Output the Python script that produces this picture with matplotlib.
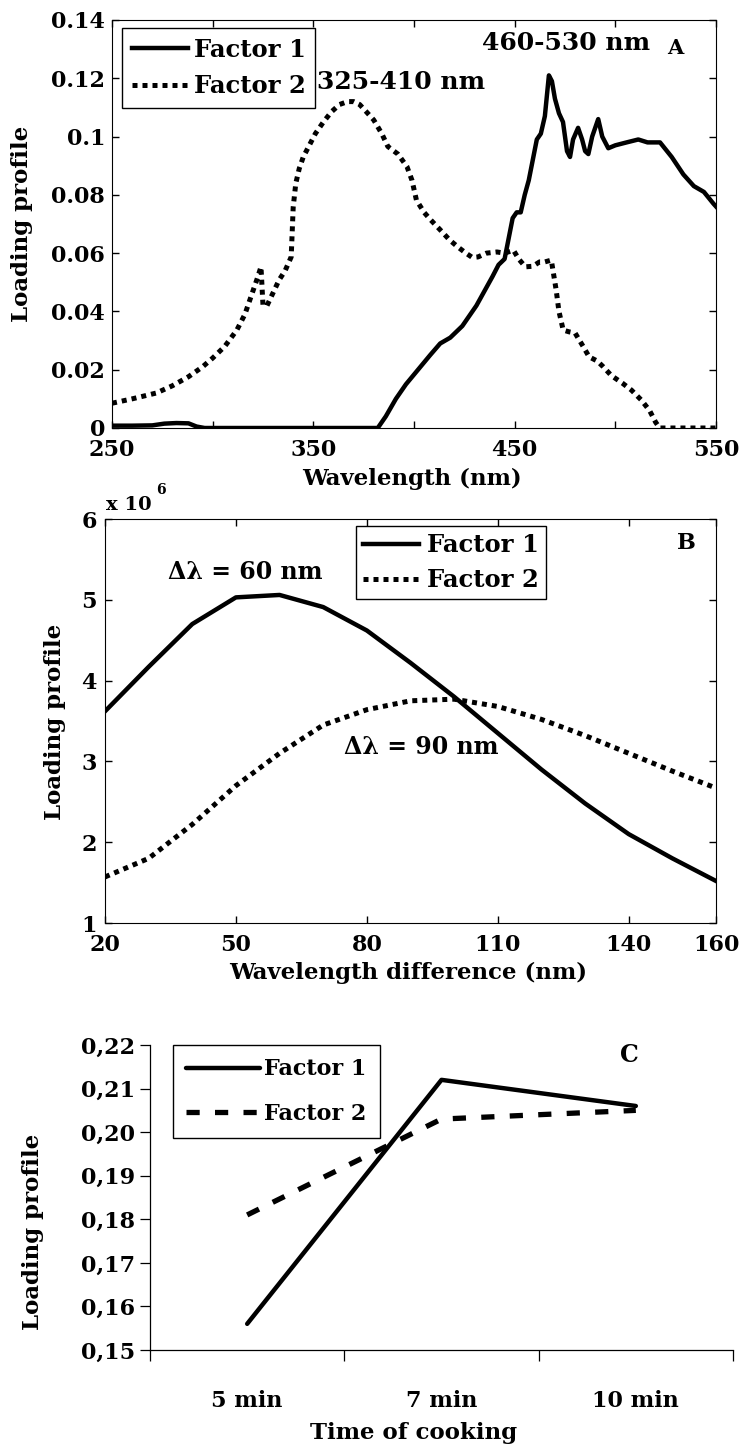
import matplotlib
matplotlib.use("Agg")
import matplotlib.pyplot as plt
from matplotlib.ticker import FixedLocator, FixedFormatter

plt.rcParams['font.family'] = ['DejaVu Serif']
plt.rcParams['font.weight'] = 'bold'
plt.rcParams['axes.labelweight'] = 'bold'

# ---------------- Panel A data ----------------
wlA1 = [250, 260, 270, 276, 282, 288, 292, 296, 340, 382, 386, 391, 396, 402, 408, 413,
        418, 424, 428, 431, 435, 439, 442, 445, 447, 449, 451, 453, 455, 457, 459, 461,
        463, 465, 467, 468.5, 470, 472, 474, 476, 477.5, 479, 481.5, 483.5, 485, 486.6,
        488.5, 491.5, 493.5, 496.5, 500, 505.6, 511.4, 516, 522.2, 528, 533.8, 539, 544,
        548.7, 550]
loadA1 = [0.0008, 0.0008, 0.0009, 0.0015, 0.0017, 0.0016, 0.0005, 0.0, 0.0, 0.0, 0.004,
          0.010, 0.015, 0.020, 0.025, 0.029, 0.031, 0.035, 0.039, 0.042, 0.047, 0.052,
          0.056, 0.058, 0.065, 0.072, 0.074, 0.074, 0.080, 0.085, 0.092, 0.099, 0.101,
          0.107, 0.121, 0.119, 0.113, 0.108, 0.105, 0.095, 0.093, 0.099, 0.103, 0.099,
          0.095, 0.094, 0.100, 0.106, 0.100, 0.096, 0.097, 0.098, 0.099, 0.098, 0.098,
          0.093, 0.087, 0.083, 0.081, 0.077, 0.076]

wlA2 = [250, 260, 272, 280, 288, 295, 300, 306, 312, 316, 319, 322, 324, 325, 327, 333,
        336, 339, 340, 341.3, 343, 345, 348, 351, 355, 359, 363, 367, 370, 373, 377, 380,
        384, 387, 392, 396.5, 399, 401.2, 405, 408.3, 413, 417.7, 422, 425.8, 429, 431.8,
        436, 441.2, 445, 449.4, 452, 455.3, 459, 462.4, 465, 468.2, 470.6, 472, 474.1,
        477, 480, 484, 487, 491, 494, 498, 503.5, 508, 512.9, 517, 520, 522, 530, 540, 550]
loadA2 = [0.0085, 0.010, 0.012, 0.0145, 0.0176, 0.021, 0.024, 0.028, 0.0336, 0.039, 0.045,
          0.051, 0.0553, 0.042, 0.042, 0.0508, 0.054, 0.0587, 0.0758, 0.084, 0.089, 0.093,
          0.097, 0.101, 0.105, 0.1085, 0.111, 0.112, 0.112, 0.111, 0.108, 0.1057, 0.101,
          0.0966, 0.094, 0.0897, 0.085, 0.0782, 0.074, 0.0714, 0.068, 0.0645, 0.062, 0.060,
          0.0585, 0.0587, 0.060, 0.0604, 0.060, 0.061, 0.058, 0.0553, 0.0555, 0.057, 0.057,
          0.0576, 0.0474, 0.040, 0.0336, 0.033, 0.0326, 0.028, 0.0244, 0.023, 0.021, 0.018,
          0.0154, 0.013, 0.0096, 0.006, 0.002, 0.0, 0.0, 0.0, 0.0]

xticksA = [250, 300, 350, 400, 450, 500, 550]
xticklabelsA = ['250', '', '350', '', '450', '', '550']
yticksA = [0, 0.02, 0.04, 0.06, 0.08, 0.1, 0.12, 0.14]
yticklabelsA = ['0', '0.02', '0.04', '0.06', '0.08', '0.1', '0.12', '0.14']

# ---------------- Panel B data ----------------
dlB = [20, 30, 40, 50, 60, 70, 80, 90, 100, 110, 120, 130, 140, 150, 160]
loadB1 = [3.62, 4.17, 4.70, 5.03, 5.06, 4.91, 4.62, 4.22, 3.80, 3.35, 2.90, 2.48, 2.10, 1.80, 1.52]
loadB2 = [1.57, 1.80, 2.22, 2.70, 3.10, 3.45, 3.64, 3.75, 3.77, 3.68, 3.52, 3.32, 3.10, 2.88, 2.67]
xticksB = [20, 50, 80, 110, 140, 160]
yticksB = [1, 2, 3, 4, 5, 6]

# ---------------- Panel C data ----------------
timesC = ['5 min', '7 min', '10 min']
loadC1 = [0.156, 0.212, 0.206]
loadC2 = [0.181, 0.203, 0.205]
yticksC = [0.15, 0.16, 0.17, 0.18, 0.19, 0.20, 0.21, 0.22]
yticklabelsC = ['0,15', '0,16', '0,17', '0,18', '0,19', '0,20', '0,21', '0,22']

W, H = 740, 1452
fig = plt.figure(figsize=(W / 100, H / 100), dpi=100)


def axes_px(left, top, right, bottom):
    return fig.add_axes([left / W, 1 - bottom / H, (right - left) / W, (bottom - top) / H])


FS_TICK = 16
FS_LAB = 16.5

# ================= Panel A =================
axA = axes_px(112, 20, 716, 428)
axA.plot(wlA1, loadA1, color='black', lw=3.2, solid_joinstyle='round', label='Factor 1')
axA.plot(wlA2, loadA2, color='black', lw=3.6, linestyle=(0, (1.0, 1.0)), label='Factor 2')
axA.set_xlim(250, 550)
axA.set_ylim(0, 0.14)
axA.xaxis.set_major_locator(FixedLocator(xticksA))
axA.xaxis.set_major_formatter(FixedFormatter(xticklabelsA))
axA.yaxis.set_major_locator(FixedLocator(yticksA))
axA.yaxis.set_major_formatter(FixedFormatter(yticklabelsA))
axA.tick_params(direction='in', length=5, width=1, top=True, right=True,
                labelsize=FS_TICK, pad=5)
axA.tick_params(axis='x', pad=8)
axA.set_xlabel('Wavelength (nm)', fontsize=FS_LAB, va='center')
axA.xaxis.set_label_coords(0.497, (428 - 479) / 408)
axA.set_ylabel('Loading profile', fontsize=FS_LAB, va='center')
axA.yaxis.set_label_coords((22 - 112) / 604, 0.5)
legA = axA.legend(loc='upper left', bbox_to_anchor=(0.0166, 0.980), borderaxespad=0,
                  fancybox=False, edgecolor='black', framealpha=1, fontsize=17.5,
                  handlelength=2.3, handletextpad=0.25, borderpad=0.4, labelspacing=0.5)
legA.get_frame().set_linewidth(1.0)
axA.text(0.7517, 0.9436, '460-530 nm', transform=axA.transAxes, ha='center', va='center', fontsize=18)
axA.text(0.932, 0.931, 'A', transform=axA.transAxes, ha='center', va='center', fontsize=15)
axA.text(0.4785, 0.848, '325-410 nm', transform=axA.transAxes, ha='center', va='center', fontsize=18)

# ================= Panel B =================
axB = axes_px(105, 519, 716, 923)
axB.plot(dlB, loadB1, color='black', lw=3.2, label='Factor 1')
axB.plot(dlB, loadB2, color='black', lw=3.6, linestyle=(0, (1.0, 1.0)), label='Factor 2')
axB.set_xlim(20, 160)
axB.set_ylim(1, 6)
axB.set_xticks(xticksB)
axB.set_yticks(yticksB)
axB.tick_params(direction='in', length=5, width=1, top=True, right=True,
                labelsize=FS_TICK, pad=6)
axB.tick_params(axis='x', pad=8)
axB.set_xlabel('Wavelength difference (nm)', fontsize=FS_LAB, va='center')
axB.xaxis.set_label_coords(0.496, (923 - 973) / 404)
axB.set_ylabel('Loading profile', fontsize=FS_LAB, va='center')
axB.yaxis.set_label_coords((55 - 105) / 611, (923 - 722) / 404)
legB = axB.legend(loc='upper left', bbox_to_anchor=(0.411, 0.983), borderaxespad=0,
                  fancybox=False, edgecolor='black', framealpha=1, fontsize=17.5,
                  handlelength=2.3, handletextpad=0.3, borderpad=0.3, labelspacing=0.45)
legB.get_frame().set_linewidth(1.0)
axB.text(0.229, 0.869, 'Δλ = 60 nm', transform=axB.transAxes, ha='center', va='center', fontsize=17)
axB.text(0.517, 0.4356, 'Δλ = 90 nm', transform=axB.transAxes, ha='center', va='center', fontsize=17)
axB.text(0.951, 0.9406, 'B', transform=axB.transAxes, ha='center', va='center', fontsize=16)
fig.text(106 / W, 1 - 505 / H, 'x 10', ha='left', va='center', fontsize=14)
fig.text(156 / W, 1 - 490 / H, '6', ha='left', va='center', fontsize=10)

# ================= Panel C =================
axC = axes_px(150, 1045, 733, 1350)
posC = [0.5, 1.5, 2.5]
axC.plot(posC, loadC1, color='black', lw=3.2, solid_capstyle='round', label='Factor 1')
axC.plot(posC, loadC2, color='black', lw=3.8, linestyle=(0, (2.5, 2.9)), label='Factor 2')
axC.set_xlim(0, 3)
axC.set_ylim(0.15, 0.22)
for s in ['top', 'right']:
    axC.spines[s].set_visible(False)
axC.spines['left'].set_linewidth(0.9)
axC.spines['bottom'].set_linewidth(0.9)
axC.xaxis.set_major_locator(FixedLocator([0, 1, 2, 3]))
axC.xaxis.set_major_formatter(FixedFormatter(['', '', '', '']))
axC.xaxis.set_minor_locator(FixedLocator(posC))
axC.xaxis.set_minor_formatter(FixedFormatter(timesC))
axC.tick_params(axis='x', which='major', direction='out', length=8, width=0.9)
axC.tick_params(axis='x', which='minor', length=0, labelsize=FS_TICK, pad=29)
axC.yaxis.set_major_locator(FixedLocator(yticksC))
axC.yaxis.set_major_formatter(FixedFormatter(yticklabelsC))
axC.tick_params(axis='y', direction='out', length=7, width=0.9, labelsize=FS_TICK, pad=4)
fig.text(414 / W, 1 - 1433 / H, 'Time of cooking', ha='center', va='center', fontsize=FS_LAB)
fig.text(33 / W, 1 - 1232 / H, 'Loading profile', ha='center', va='center', rotation=90,
         fontsize=FS_LAB)
legC = axC.legend(loc='upper left', bbox_to_anchor=(0.0395, 1.0), borderaxespad=0,
                  fancybox=False, edgecolor='black', framealpha=1, fontsize=16,
                  handlelength=3.3, handletextpad=0.2, borderpad=0.6, labelspacing=1.0)
legC.get_frame().set_linewidth(1.0)
axC.text(0.8216, 0.967, 'C', transform=axC.transAxes, ha='center', va='center', fontsize=17)

fig.savefig('out.png', dpi=100)
